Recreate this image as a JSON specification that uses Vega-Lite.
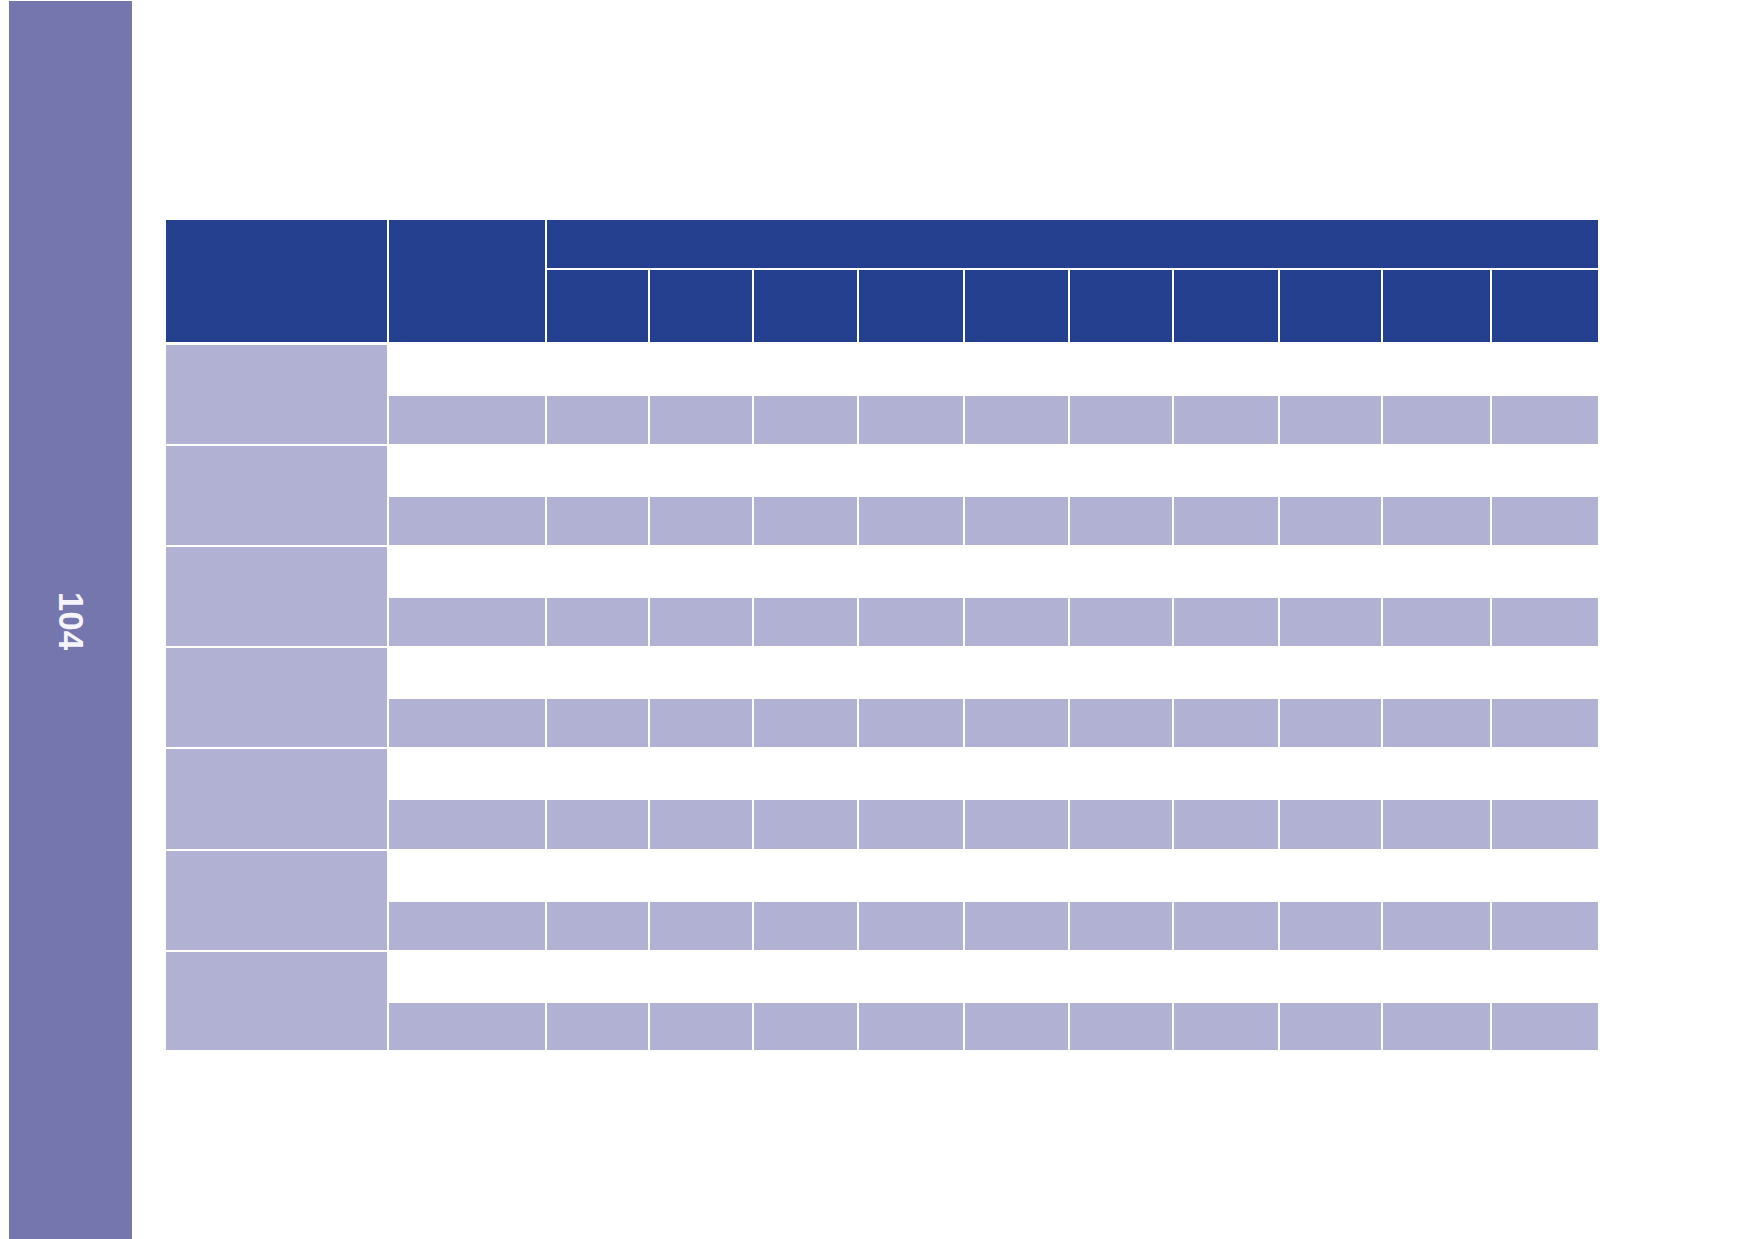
{
  "$schema": "https://vega.github.io/schema/vega-lite/v6.json",
  "width": 1754, "height": 1239,
  "padding": 0,
  "autosize": {"type": "none"},
  "background": "white",
  "config": {"view": {"stroke": null}},
  "datasets": {
    "cells": [
      {"k": "side", "x": 9, "x2": 132, "y": 1, "y2": 1239},

      {"k": "head", "x": 165, "x2": 388, "y": 219, "y2": 343},
      {"k": "head", "x": 388, "x2": 546, "y": 219, "y2": 343},
      {"k": "head", "x": 546, "x2": 1599, "y": 219, "y2": 269},
      {"k": "head", "x": 546, "x2": 649, "y": 269, "y2": 343},
      {"k": "head", "x": 649, "x2": 753, "y": 269, "y2": 343},
      {"k": "head", "x": 753, "x2": 858, "y": 269, "y2": 343},
      {"k": "head", "x": 858, "x2": 964, "y": 269, "y2": 343},
      {"k": "head", "x": 964, "x2": 1069, "y": 269, "y2": 343},
      {"k": "head", "x": 1069, "x2": 1173, "y": 269, "y2": 343},
      {"k": "head", "x": 1173, "x2": 1279, "y": 269, "y2": 343},
      {"k": "head", "x": 1279, "x2": 1382, "y": 269, "y2": 343},
      {"k": "head", "x": 1382, "x2": 1491, "y": 269, "y2": 343},
      {"k": "head", "x": 1491, "x2": 1599, "y": 269, "y2": 343},

      {"k": "cell", "x": 165, "x2": 388, "y": 344, "y2": 445},
      {"k": "cell", "x": 165, "x2": 388, "y": 445, "y2": 546},
      {"k": "cell", "x": 165, "x2": 388, "y": 546, "y2": 647},
      {"k": "cell", "x": 165, "x2": 388, "y": 647, "y2": 748},
      {"k": "cell", "x": 165, "x2": 388, "y": 748, "y2": 850},
      {"k": "cell", "x": 165, "x2": 388, "y": 850, "y2": 951},
      {"k": "cell", "x": 165, "x2": 388, "y": 951, "y2": 1051},

      {"k": "cell", "x": 388, "x2": 546, "y": 395, "y2": 445},
      {"k": "cell", "x": 546, "x2": 649, "y": 395, "y2": 445},
      {"k": "cell", "x": 649, "x2": 753, "y": 395, "y2": 445},
      {"k": "cell", "x": 753, "x2": 858, "y": 395, "y2": 445},
      {"k": "cell", "x": 858, "x2": 964, "y": 395, "y2": 445},
      {"k": "cell", "x": 964, "x2": 1069, "y": 395, "y2": 445},
      {"k": "cell", "x": 1069, "x2": 1173, "y": 395, "y2": 445},
      {"k": "cell", "x": 1173, "x2": 1279, "y": 395, "y2": 445},
      {"k": "cell", "x": 1279, "x2": 1382, "y": 395, "y2": 445},
      {"k": "cell", "x": 1382, "x2": 1491, "y": 395, "y2": 445},
      {"k": "cell", "x": 1491, "x2": 1599, "y": 395, "y2": 445},

      {"k": "cell", "x": 388, "x2": 546, "y": 496, "y2": 546},
      {"k": "cell", "x": 546, "x2": 649, "y": 496, "y2": 546},
      {"k": "cell", "x": 649, "x2": 753, "y": 496, "y2": 546},
      {"k": "cell", "x": 753, "x2": 858, "y": 496, "y2": 546},
      {"k": "cell", "x": 858, "x2": 964, "y": 496, "y2": 546},
      {"k": "cell", "x": 964, "x2": 1069, "y": 496, "y2": 546},
      {"k": "cell", "x": 1069, "x2": 1173, "y": 496, "y2": 546},
      {"k": "cell", "x": 1173, "x2": 1279, "y": 496, "y2": 546},
      {"k": "cell", "x": 1279, "x2": 1382, "y": 496, "y2": 546},
      {"k": "cell", "x": 1382, "x2": 1491, "y": 496, "y2": 546},
      {"k": "cell", "x": 1491, "x2": 1599, "y": 496, "y2": 546},

      {"k": "cell", "x": 388, "x2": 546, "y": 597, "y2": 647},
      {"k": "cell", "x": 546, "x2": 649, "y": 597, "y2": 647},
      {"k": "cell", "x": 649, "x2": 753, "y": 597, "y2": 647},
      {"k": "cell", "x": 753, "x2": 858, "y": 597, "y2": 647},
      {"k": "cell", "x": 858, "x2": 964, "y": 597, "y2": 647},
      {"k": "cell", "x": 964, "x2": 1069, "y": 597, "y2": 647},
      {"k": "cell", "x": 1069, "x2": 1173, "y": 597, "y2": 647},
      {"k": "cell", "x": 1173, "x2": 1279, "y": 597, "y2": 647},
      {"k": "cell", "x": 1279, "x2": 1382, "y": 597, "y2": 647},
      {"k": "cell", "x": 1382, "x2": 1491, "y": 597, "y2": 647},
      {"k": "cell", "x": 1491, "x2": 1599, "y": 597, "y2": 647},

      {"k": "cell", "x": 388, "x2": 546, "y": 698, "y2": 748},
      {"k": "cell", "x": 546, "x2": 649, "y": 698, "y2": 748},
      {"k": "cell", "x": 649, "x2": 753, "y": 698, "y2": 748},
      {"k": "cell", "x": 753, "x2": 858, "y": 698, "y2": 748},
      {"k": "cell", "x": 858, "x2": 964, "y": 698, "y2": 748},
      {"k": "cell", "x": 964, "x2": 1069, "y": 698, "y2": 748},
      {"k": "cell", "x": 1069, "x2": 1173, "y": 698, "y2": 748},
      {"k": "cell", "x": 1173, "x2": 1279, "y": 698, "y2": 748},
      {"k": "cell", "x": 1279, "x2": 1382, "y": 698, "y2": 748},
      {"k": "cell", "x": 1382, "x2": 1491, "y": 698, "y2": 748},
      {"k": "cell", "x": 1491, "x2": 1599, "y": 698, "y2": 748},

      {"k": "cell", "x": 388, "x2": 546, "y": 799, "y2": 850},
      {"k": "cell", "x": 546, "x2": 649, "y": 799, "y2": 850},
      {"k": "cell", "x": 649, "x2": 753, "y": 799, "y2": 850},
      {"k": "cell", "x": 753, "x2": 858, "y": 799, "y2": 850},
      {"k": "cell", "x": 858, "x2": 964, "y": 799, "y2": 850},
      {"k": "cell", "x": 964, "x2": 1069, "y": 799, "y2": 850},
      {"k": "cell", "x": 1069, "x2": 1173, "y": 799, "y2": 850},
      {"k": "cell", "x": 1173, "x2": 1279, "y": 799, "y2": 850},
      {"k": "cell", "x": 1279, "x2": 1382, "y": 799, "y2": 850},
      {"k": "cell", "x": 1382, "x2": 1491, "y": 799, "y2": 850},
      {"k": "cell", "x": 1491, "x2": 1599, "y": 799, "y2": 850},

      {"k": "cell", "x": 388, "x2": 546, "y": 901, "y2": 951},
      {"k": "cell", "x": 546, "x2": 649, "y": 901, "y2": 951},
      {"k": "cell", "x": 649, "x2": 753, "y": 901, "y2": 951},
      {"k": "cell", "x": 753, "x2": 858, "y": 901, "y2": 951},
      {"k": "cell", "x": 858, "x2": 964, "y": 901, "y2": 951},
      {"k": "cell", "x": 964, "x2": 1069, "y": 901, "y2": 951},
      {"k": "cell", "x": 1069, "x2": 1173, "y": 901, "y2": 951},
      {"k": "cell", "x": 1173, "x2": 1279, "y": 901, "y2": 951},
      {"k": "cell", "x": 1279, "x2": 1382, "y": 901, "y2": 951},
      {"k": "cell", "x": 1382, "x2": 1491, "y": 901, "y2": 951},
      {"k": "cell", "x": 1491, "x2": 1599, "y": 901, "y2": 951},

      {"k": "cell", "x": 388, "x2": 546, "y": 1002, "y2": 1051},
      {"k": "cell", "x": 546, "x2": 649, "y": 1002, "y2": 1051},
      {"k": "cell", "x": 649, "x2": 753, "y": 1002, "y2": 1051},
      {"k": "cell", "x": 753, "x2": 858, "y": 1002, "y2": 1051},
      {"k": "cell", "x": 858, "x2": 964, "y": 1002, "y2": 1051},
      {"k": "cell", "x": 964, "x2": 1069, "y": 1002, "y2": 1051},
      {"k": "cell", "x": 1069, "x2": 1173, "y": 1002, "y2": 1051},
      {"k": "cell", "x": 1173, "x2": 1279, "y": 1002, "y2": 1051},
      {"k": "cell", "x": 1279, "x2": 1382, "y": 1002, "y2": 1051},
      {"k": "cell", "x": 1382, "x2": 1491, "y": 1002, "y2": 1051},
      {"k": "cell", "x": 1491, "x2": 1599, "y": 1002, "y2": 1051}
    ],
    "labels": [
      {"label": "104", "x": 70, "y": 621}
    ]
  },
  "layer": [
    {
      "data": {"name": "cells"},
      "mark": {"type": "rect", "stroke": "white"},
      "encoding": {
        "x": {"field": "x", "type": "quantitative", "scale": {"domain": [0, 1754], "nice": false, "zero": false}, "axis": null},
        "x2": {"field": "x2"},
        "y": {"field": "y", "type": "quantitative", "scale": {"domain": [0, 1239], "nice": false, "zero": false, "reverse": true}, "axis": null},
        "y2": {"field": "y2"},
        "color": {
          "field": "k", "type": "nominal", "legend": null,
          "scale": {"domain": ["side", "head", "cell"], "range": ["#7676AE", "#25408F", "#B0B1D3"]}
        },
        "strokeWidth": {"condition": {"test": "datum.k === 'side'", "value": 0}, "value": 2}
      }
    },
    {
      "data": {"name": "labels"},
      "mark": {"type": "text", "angle": 90, "align": "center", "baseline": "middle", "font": "Liberation Sans", "fontWeight": "bold", "fontSize": 35, "color": "#F4F4FA"},
      "encoding": {
        "x": {"field": "x", "type": "quantitative"},
        "y": {"field": "y", "type": "quantitative"},
        "text": {"field": "label"}
      }
    }
  ]
}
